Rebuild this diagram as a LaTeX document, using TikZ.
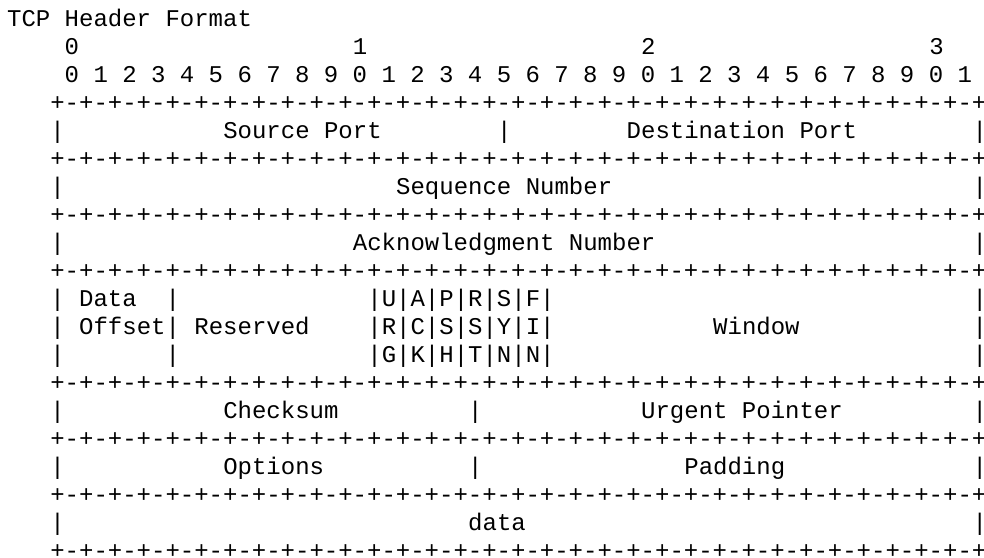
\documentclass[tikz,border=0pt]{standalone}
\usepackage{fontspec}
\setmonofont{Liberation Mono}
\tikzset{txt/.style={font=\fontsize{12pt}{14pt}\selectfont\ttfamily, inner sep=0pt, outer sep=0pt, text=black, anchor=base west}}
\newcommand\tx[3]{\node[txt] (n#1x#2) at ({3.55pt+7.205pt*#2}, {-13.25pt-14pt*#1}) {#3};}
\newcommand\brdstr{+-+-+-+-+-+-+-+-+-+-+-+-+-+-+-+-+-+-+-+-+-+-+-+-+-+-+-+-+-+-+-+-+}
\begin{document}
\begin{tikzpicture}
\fill[white] (0,0) rectangle (492pt,-278.5pt);
\useasboundingbox (0,0) rectangle (492pt,-278.5pt);
% title
\tx{0}{0}{TCP Header Format}
% bit numbering
\tx{1}{4}{0}
\tx{1}{24}{1}
\tx{1}{44}{2}
\tx{1}{64}{3}
\tx{2}{4}{0 1 2 3 4 5 6 7 8 9 0 1 2 3 4 5 6 7 8 9 0 1 2 3 4 5 6 7 8 9 0 1}
% borders
\foreach \r in {3,5,7,9,13,15,17,19} {\tx{\r}{3}{\brdstr}}
% side bars
\foreach \r in {4,6,8,10,11,12,14,16,18} {\tx{\r}{3}{|}\tx{\r}{67}{|}}
% row 4
\tx{4}{15}{Source Port}
\tx{4}{34}{|}
\tx{4}{43}{Destination Port}
% row 6
\tx{6}{27}{Sequence Number}
% row 8
\tx{8}{24}{Acknowledgment Number}
% rows 10-12
\tx{10}{5}{Data}
\tx{11}{5}{Offset}
\tx{10}{11}{|}
\tx{11}{11}{|}
\tx{12}{11}{|}
\tx{11}{13}{Reserved}
\tx{10}{25}{|U|A|P|R|S|F|}
\tx{11}{25}{|R|C|S|S|Y|I|}
\tx{12}{25}{|G|K|H|T|N|N|}
\tx{11}{49}{Window}
% row 14
\tx{14}{15}{Checksum}
\tx{14}{32}{|}
\tx{14}{44}{Urgent Pointer}
% row 16
\tx{16}{15}{Options}
\tx{16}{32}{|}
\tx{16}{47}{Padding}
% row 18
\tx{18}{32}{data}
\end{tikzpicture}
\end{document}
